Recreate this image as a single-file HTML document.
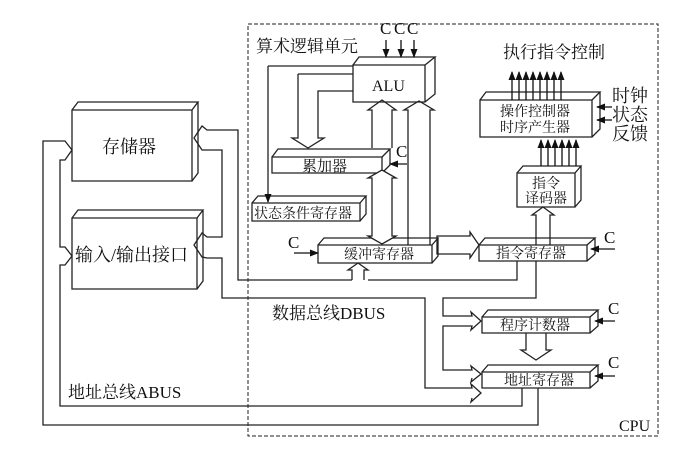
<!DOCTYPE html>
<html><head><meta charset="utf-8"><style>
body{margin:0;background:#fff}
svg text{font-family:"Liberation Serif","Noto Serif CJK SC","Noto Sans CJK SC",serif;fill:#111}
</style></head><body>
<svg width="676" height="453" viewBox="0 0 676 453" xmlns="http://www.w3.org/2000/svg">
<defs>
<marker id="a" markerWidth="9" markerHeight="7" refX="8" refY="3.5" orient="auto" markerUnits="userSpaceOnUse"><path d="M0,0L9,3.5L0,7z" fill="#111"/></marker>
</defs>
<g fill="none" stroke="#222" stroke-width="1.3">
<rect x="248" y="24" width="410" height="412" stroke-dasharray="4,2" stroke-width="1"/>
<g fill="#fff">
<path d="M353,65h72v37h-72z M353,65l6,-8h76l-10,8 M425,102l10,-8v-37"/>
<path d="M272,157h110v16h-110z M272,157l6,-8h112l-8,8 M382,173l8,-8v-16"/>
<path d="M252,203h108v18h-108z M252,203l6,-7h108l-6,7 M360,221l6,-7v-18"/>
<path d="M318,245h114v18h-114z M318,245l6,-7h114l-6,7 M432,263l6,-7v-18"/>
<path d="M479,245h108v16h-108z M479,245l6,-7h110l-8,7 M587,261l8,-7v-16"/>
<path d="M482,317h108v16h-108z M482,317l6,-7h110l-8,7 M590,333l8,-7v-16"/>
<path d="M482,372h108v16h-108z M482,372l6,-7h110l-8,7 M590,388l8,-7v-16"/>
<path d="M480,100h112v37h-112z M480,100l6,-8h114l-8,8 M592,137l8,-8v-37"/>
<path d="M517,173h58v34h-58z M517,173l6,-7h58l-6,7 M575,207l6,-7v-34"/>
<path d="M72,110h120v71h-120z M72,110l6,-8h120l-6,8 M192,181l6,-8v-71"/>
<path d="M72,218h125v71h-125z M72,218l6,-8h125l-6,8 M197,289l6,-8v-71"/>
</g>
<path d="M372,148V110l-4,0 14,-10 14,10h-4V148"/>
<path d="M372,178l-4,0 14,-8 14,8h-4V236h4l-14,8 -14,-8h4z" fill="#fff"/>
<path d="M408,245V110h-4l15,-9 15,9h-4V245"/>
<path d="M298,74H353 M298,74V138h-6l16,10 16,-10h-6V91H353"/>
<path d="M268,66H353"/><path d="M268,66V202" marker-end="url(#a)"/>
<path d="M437,236H470v-4l9,13 -9,13v-4H437z"/>
<path d="M536,245V215h-4l11,-8 11,8h-4V245"/>
<path d="M352,280V270h-4l10,-7 10,7h-4V280"/>
<path d="M352,280H238V130H207 l-5,-4 -8,12 8,12 5,0H222V237H207l-5,-4 -8,12 8,12 5,1H222V298H425V388H472l-1,-4 10,9 -10,9 1,-4" />
<path d="M368,280H517V261"/>
<path d="M536,261V298H443V316H472l-1,-4 10,9 -10,9 1,-4H443V370H472l-1,-4 10,8 -10,8 1,-4"/>
<path d="M526,333V350h-5l15,10 15,-10h-5V333"/>
<path d="M522,388V406H60V265H65l7,-9 -7,-9H60V160H65l7,-10 -7,-9H43V425H538V388"/>
<g stroke-width="1.3" stroke="#111">
<path d="M512,100V72" marker-end="url(#a)"/><path d="M519,100V72" marker-end="url(#a)"/>
<path d="M526,100V72" marker-end="url(#a)"/><path d="M533,100V72" marker-end="url(#a)"/>
<path d="M540,100V72" marker-end="url(#a)"/><path d="M547,100V72" marker-end="url(#a)"/>
<path d="M554,100V72" marker-end="url(#a)"/><path d="M561,100V72" marker-end="url(#a)"/>
<path d="M541,166V140" marker-end="url(#a)"/><path d="M548,166V140" marker-end="url(#a)"/>
<path d="M555,166V140" marker-end="url(#a)"/><path d="M562,166V140" marker-end="url(#a)"/>
<path d="M569,166V140" marker-end="url(#a)"/><path d="M576,166V140" marker-end="url(#a)"/>
<path d="M612,107H597" marker-end="url(#a)"/><path d="M612,120H597" marker-end="url(#a)"/>
<path d="M386,40V57" marker-end="url(#a)"/><path d="M401,40V57" marker-end="url(#a)"/><path d="M414,40V57" marker-end="url(#a)"/>
<path d="M407,164H390" marker-end="url(#a)"/>
<path d="M294,253H318" marker-end="url(#a)"/>
<path d="M615,249H591" marker-end="url(#a)"/>
<path d="M615,321H595" marker-end="url(#a)"/>
<path d="M615,376H595" marker-end="url(#a)"/>
</g>
</g>
<g font-size="17">
<text x="256" y="52">算术逻辑单元</text>
<text x="503" y="58">执行指令控制</text>
<text x="272" y="319">数据总线DBUS</text>
<text x="68" y="398">地址总线ABUS</text>
<text x="102" y="153" font-size="18">存储器</text>
<text x="75" y="261" font-size="18">输入/输出接口</text>
<text x="372" y="91" font-size="16">ALU</text>
<text x="302" y="171" font-size="15">累加器</text>
<text x="612" y="102" font-size="18">时钟</text>
<text x="612" y="121" font-size="18">状态</text>
<text x="612" y="140" font-size="18">反馈</text>
</g>
<g font-size="14">
<text x="254" y="218">状态条件寄存器</text>
<text x="344" y="259">缓冲寄存器</text>
<text x="496" y="258">指令寄存器</text>
<text x="500" y="330">程序计数器</text>
<text x="504" y="385">地址寄存器</text>
<text x="500" y="116">操作控制器</text>
<text x="500" y="132">时序产生器</text>
<text x="532" y="188">指令</text>
<text x="525" y="203">译码器</text>
</g>
<g font-size="17">
<text x="380" y="34">C</text><text x="394" y="34">C</text><text x="407" y="34">C</text>
<text x="396" y="157">C</text>
<text x="288" y="248">C</text>
<text x="604" y="243">C</text>
<text x="608" y="314">C</text>
<text x="608" y="368">C</text>
<text x="619" y="431" font-size="16">CPU</text>
</g>
</svg>
</body></html>
